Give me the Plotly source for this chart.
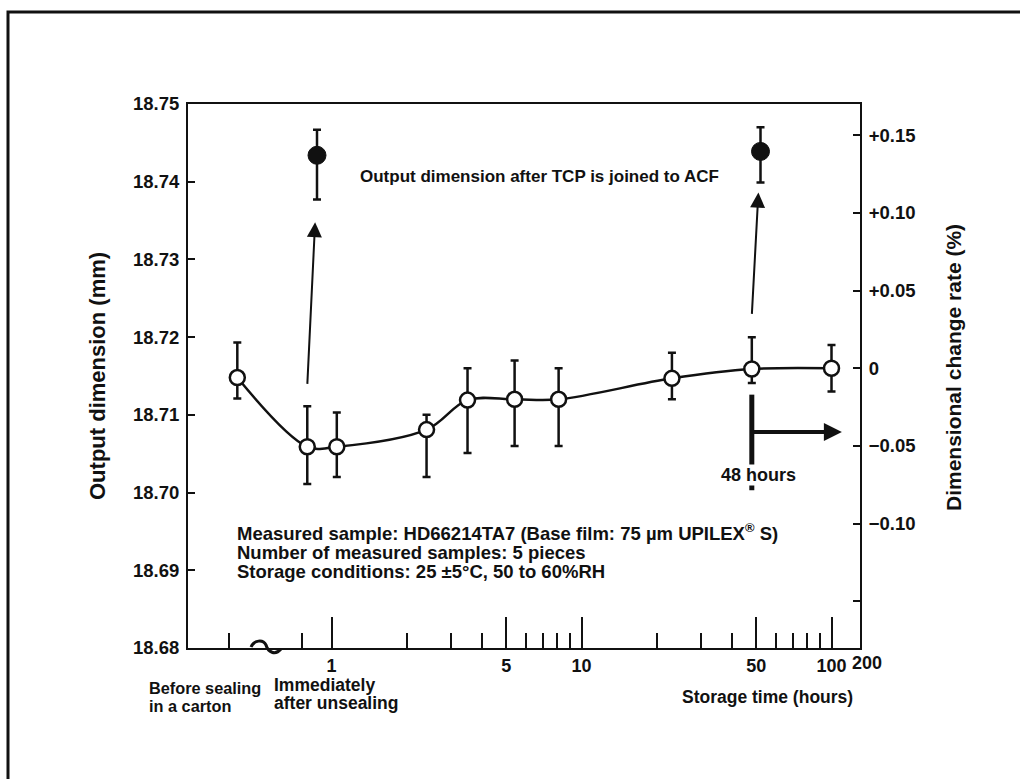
import numpy as np
import plotly.graph_objects as go

# ---- data -------------------------------------------------------------
# storage time (hours) of each measurement; first entry = before sealing
hours = [0.42, 0.80, 1.05, 2.4, 3.5, 5.4, 8.1, 23, 48, 100]
dim_mean = [18.7148, 18.7059, 18.7059, 18.7081, 18.7119, 18.7120, 18.7120, 18.7147, 18.7159, 18.7160]
dim_upper = [18.7193, 18.7111, 18.7103, 18.7100, 18.7160, 18.7170, 18.7160, 18.7180, 18.7200, 18.7190]
dim_lower = [18.7121, 18.7011, 18.7020, 18.7020, 18.7051, 18.7060, 18.7060, 18.7120, 18.7141, 18.7130]

# output dimension after the TCP is joined to ACF
acf_hours = [0.875, 52]
acf_mean = [18.7434, 18.7439]
acf_upper = [18.7467, 18.7470]
acf_lower = [18.7377, 18.7399]

# arrows from the storage point to the joined result (hours, mm)
acf_arrows = [
    dict(tail=(0.80, 18.7138), head=(0.86, 18.7348)),
    dict(tail=(48, 18.7228), head=(51, 18.7386)),
]

# 48-hour marker
mark_hours = 48
mark_top, mark_bottom = 18.7126, 18.7003
mark_arrow_y = 18.7078
mark_arrow_end = 110

# axes
dim_ticks = [18.68, 18.69, 18.70, 18.71, 18.72, 18.73, 18.74, 18.75]
rate_zero_mm = 18.716          # 0 % on the right-hand scale
rate_per_mm = 5.0              # 0.05 % per 0.01 mm
rate_ticks = [-0.15, -0.10, -0.05, 0, 0.05, 0.10, 0.15]
rate_labels = ["", "\u22120.10", "\u22120.05", "0", "+0.05", "+0.10", "+0.15"]
major_hours = [1, 5, 10, 50, 100]
major_labels = ["1", "5", "10", "50", "100"]
minor_hours = [0.39, 0.76, 2, 3, 4, 6, 7, 8, 9, 20, 30, 40, 60, 70, 80, 90]

info_lines = [
    "Measured sample: HD66214TA7 (Base film: 75 \u00b5m UPILEX<sup>\u00ae</sup> S)",
    "Number of measured samples: 5 pieces",
    "Storage conditions: 25 \u00b15\u00b0C, 50 to 60%RH",
]

# ---- geometry ---------------------------------------------------------
W, H = 1020, 779
ML, MR, MT, MB = 188, 160, 104, 131
PW, PH = W - ML - MR, H - MT - MB
LOG_X0, LOG_PER_DECADE = 331.5, 250.0   # pixel of 1 h and pixels per decade


def px(x):
    return (x - ML) / PW


def py(y):
    return (H - MB - y) / PH


FONT = "Liberation Sans, Arial, Helvetica, sans-serif"
BLACK = "#111111"

fig = go.Figure()

fig.add_trace(go.Scatter(
    x=hours, y=dim_mean, mode="lines+markers",
    line=dict(color=BLACK, width=2.5, shape="spline", smoothing=1.0),
    marker=dict(symbol="circle", size=15, color="white", line=dict(color=BLACK, width=2.5)),
    error_y=dict(type="data", symmetric=False,
                 array=[u - m for u, m in zip(dim_upper, dim_mean)],
                 arrayminus=[m - l for m, l in zip(dim_mean, dim_lower)],
                 color=BLACK, thickness=2.5, width=4),
    showlegend=False, hoverinfo="skip",
))

fig.add_trace(go.Scatter(
    x=acf_hours, y=acf_mean, mode="markers",
    marker=dict(symbol="circle", size=18, color=BLACK, line=dict(color=BLACK, width=1)),
    error_y=dict(type="data", symmetric=False,
                 array=[u - m for u, m in zip(acf_upper, acf_mean)],
                 arrayminus=[m - l for m, l in zip(acf_mean, acf_lower)],
                 color=BLACK, thickness=2.5, width=4),
    showlegend=False, hoverinfo="skip",
))

# 48-hour vertical marker
fig.add_trace(go.Scatter(
    x=[mark_hours, mark_hours], y=[mark_top, mark_bottom], mode="lines",
    line=dict(color=BLACK, width=5), showlegend=False, hoverinfo="skip",
))

# invisible trace carrying the right-hand (percent) axis
fig.add_trace(go.Scatter(
    x=hours, y=[(v - rate_zero_mm) * rate_per_mm for v in dim_mean], yaxis="y2",
    mode="markers", marker=dict(opacity=0), showlegend=False, hoverinfo="skip",
))

ann = []
for a in acf_arrows:
    ann.append(dict(x=np.log10(a["head"][0]), y=a["head"][1], ax=np.log10(a["tail"][0]), ay=a["tail"][1],
                    xref="x", yref="y", axref="x", ayref="y", text="", showarrow=True,
                    arrowhead=2, arrowsize=1.5, arrowwidth=2, arrowcolor=BLACK, standoff=0))
ann.append(dict(x=np.log10(mark_arrow_end), y=mark_arrow_y, ax=np.log10(mark_hours), ay=mark_arrow_y,
                xref="x", yref="y", axref="x", ayref="y", text="", showarrow=True,
                arrowhead=2, arrowsize=0.9, arrowwidth=4, arrowcolor=BLACK, standoff=0))
ann.append(dict(x=np.log10(mark_hours), y=18.7023, xref="x", yref="y", text="48 hours",
                showarrow=False, xshift=7, bgcolor="white", borderpad=0,
                font=dict(family=FONT, size=18, color=BLACK)))

ann.append(dict(x=px(358), y=py(176), xref="paper", yref="paper", xanchor="left", yanchor="middle",
                text="Output dimension after TCP is joined to ACF", showarrow=False,
                font=dict(family=FONT, size=17, color=BLACK)))
for t, yy in zip(info_lines, [532, 552, 571]):
    ann.append(dict(x=px(235), y=py(yy), xref="paper", yref="paper", xanchor="left", yanchor="middle",
                    text=t, showarrow=False, font=dict(family=FONT, size=18.5, color=BLACK)))

# x-axis side labels
for t, xx, yy, fs in [("Before sealing", 147, 688, 16.3), ("in a carton", 147, 706, 16.3),
                      ("Immediately", 272, 685, 17.5), ("after unsealing", 272, 703, 17.5)]:
    ann.append(dict(x=px(xx), y=py(yy), xref="paper", yref="paper", xanchor="left", yanchor="middle",
                    text=t, showarrow=False, font=dict(family=FONT, size=fs, color=BLACK)))
ann.append(dict(x=px(867), y=py(663), xref="paper", yref="paper", xanchor="center", yanchor="middle",
                text="200", showarrow=False, font=dict(family=FONT, size=18, color=BLACK, weight="bold")))
ann.append(dict(x=px(767), y=py(697), xref="paper", yref="paper", xanchor="center", yanchor="middle",
                text="Storage time (hours)", showarrow=False, font=dict(family=FONT, size=17.5, color=BLACK)))
ann.append(dict(x=px(97), y=py(376), xref="paper", yref="paper", xanchor="center", yanchor="middle",
                text="Output dimension (mm)", textangle=-90, showarrow=False,
                font=dict(family=FONT, size=22, color=BLACK)))
ann.append(dict(x=px(953), y=py(368), xref="paper", yref="paper", xanchor="center", yanchor="middle",
                text="Dimensional change rate (%)", textangle=-90, showarrow=False,
                font=dict(family=FONT, size=21, color=BLACK)))

# frame and axis break symbol
shapes = [
    dict(type="path", xref="paper", yref="paper",
         path=f"M {px(8)},{py(779)} L {px(8)},{py(12)} L {px(1020)},{py(12)}",
         line=dict(color=BLACK, width=3)),
    dict(type="path", xref="paper", yref="paper",
         path=(f"M {px(251)},{py(647)} C {px(254)},{py(640)} {px(263)},{py(639)} {px(266)},{py(645)} "
               f"C {px(268)},{py(652)} {px(275)},{py(656)} {px(281)},{py(649)}"),
         line=dict(color=BLACK, width=3)),
]

tickfont = dict(family=FONT, size=18.5, color=BLACK, weight="bold")

fig.update_layout(
    width=W, height=H,
    margin=dict(l=ML, r=MR, t=MT, b=MB, pad=0),
    paper_bgcolor="white", plot_bgcolor="white",
    font=dict(family=FONT, color=BLACK, weight="bold"),
    xaxis=dict(type="log",
               range=[(ML - LOG_X0) / LOG_PER_DECADE, (W - MR - LOG_X0) / LOG_PER_DECADE],
               showline=True, linecolor=BLACK, linewidth=2, mirror=True,
               showgrid=False, zeroline=False,
               tickmode="array", tickvals=major_hours, ticktext=major_labels,
               ticks="inside", ticklen=31, tickwidth=2, tickcolor=BLACK,
               tickfont=dict(family=FONT, size=18, color=BLACK, weight="bold"), ticklabelstandoff=0,
               minor=dict(tickmode="array", tickvals=minor_hours, ticks="inside",
                          ticklen=15, tickwidth=2, tickcolor=BLACK, showgrid=False)),
    yaxis=dict(range=[18.68, 18.75], showline=True, linecolor=BLACK, linewidth=2,
               showgrid=False, zeroline=False,
               tickmode="array", tickvals=dim_ticks, tickformat=".2f",
               ticks="inside", ticklen=7, tickwidth=2, tickcolor=BLACK,
               tickfont=tickfont, ticklabelstandoff=3),
    yaxis2=dict(overlaying="y", side="right", anchor="x",
                range=[(18.68 - rate_zero_mm) * rate_per_mm, (18.75 - rate_zero_mm) * rate_per_mm],
                showline=True, linecolor=BLACK, linewidth=2, showgrid=False, zeroline=False,
                tickmode="array", tickvals=rate_ticks, ticktext=rate_labels,
                ticks="inside", ticklen=7, tickwidth=2, tickcolor=BLACK,
                tickfont=tickfont, ticklabelstandoff=3),
    annotations=ann,
    shapes=shapes,
)

fig.write_html("out.html")
